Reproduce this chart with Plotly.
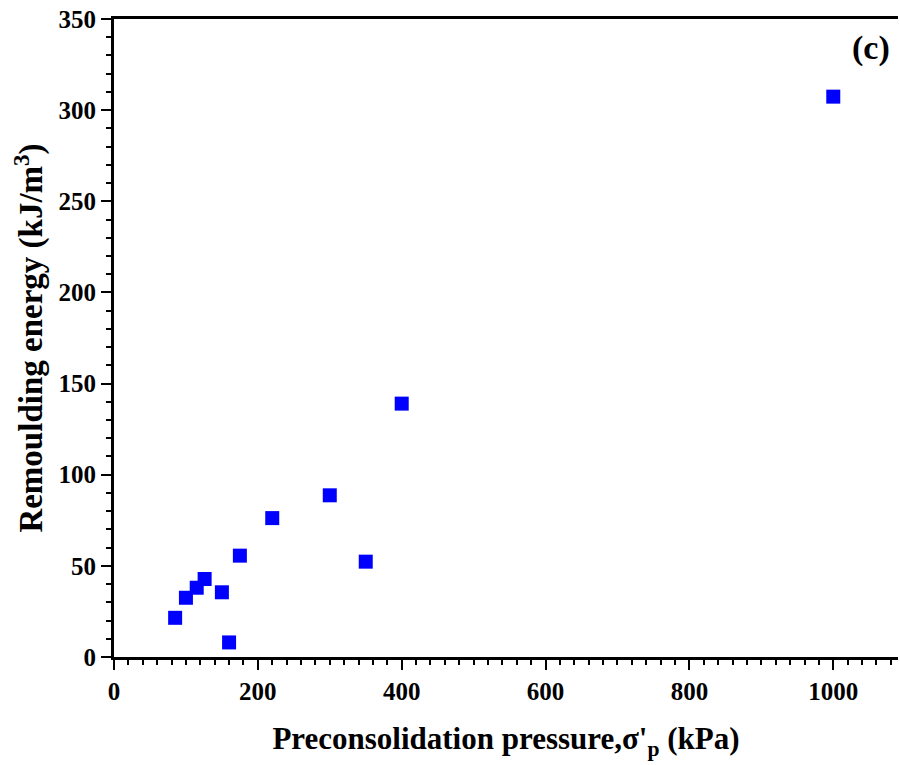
import plotly.graph_objects as go

pressure_kpa = [85, 100, 115, 126, 150, 160, 175, 220, 300, 350, 400, 1000]
remoulding_energy = [21.5, 32.5, 38, 42.8, 35.5, 8, 55.6, 76.2, 88.7, 52.3, 139, 307.4]
x_ticks = [0, 200, 400, 600, 800, 1000]
y_ticks = [0, 50, 100, 150, 200, 250, 300, 350]

font_family = "Liberation Serif"

fig = go.Figure()
fig.add_trace(go.Scatter(
    x=pressure_kpa, y=remoulding_energy, mode="markers",
    marker=dict(symbol="square", size=14, color="#0000FF", line=dict(width=0)),
    showlegend=False,
))

fig.update_layout(
    width=900, height=765,
    margin=dict(l=114, r=2, t=19, b=108),
    plot_bgcolor="white", paper_bgcolor="white",
    font=dict(family=font_family, color="black"),
    xaxis=dict(
        range=[0, 1090], tickmode="array", tickvals=x_ticks,
        ticktext=[f"<b>{v}</b>" for v in x_ticks],
        ticks="outside", ticklen=10, tickwidth=2, tickcolor="black",
        minor=dict(dtick=20, ticks="outside", ticklen=5, tickwidth=1.5, tickcolor="black"),
        showline=True, linecolor="black", linewidth=3, mirror=True,
        showgrid=False, zeroline=False,
        tickfont=dict(family=font_family, size=25, color="black"),
        title=dict(text="<b>Preconsolidation pressure,σ'<sub>p</sub> (kPa)</b>",
                   font=dict(family=font_family, size=31, color="black"), standoff=24),
    ),
    yaxis=dict(
        range=[0, 350], tickmode="array", tickvals=y_ticks,
        ticktext=[f"<b>{v}</b>" for v in y_ticks],
        ticks="outside", ticklen=10, tickwidth=2, tickcolor="black",
        minor=dict(dtick=10, ticks="outside", ticklen=5, tickwidth=1.5, tickcolor="black"),
        showline=True, linecolor="black", linewidth=3, mirror=False,
        showgrid=False, zeroline=False,
        tickfont=dict(family=font_family, size=25, color="black"),
        title=dict(text="<b>Remoulding energy (kJ/m<sup>3</sup>)</b>",
                   font=dict(family=font_family, size=33, color="black"), standoff=6),
    ),
    annotations=[dict(
        text="<b>(c)</b>", x=0.992, y=0.988, xref="paper", yref="paper",
        xanchor="right", yanchor="top", showarrow=False,
        font=dict(family=font_family, size=34, color="black"),
    )],
)

fig.write_html("out.html")
